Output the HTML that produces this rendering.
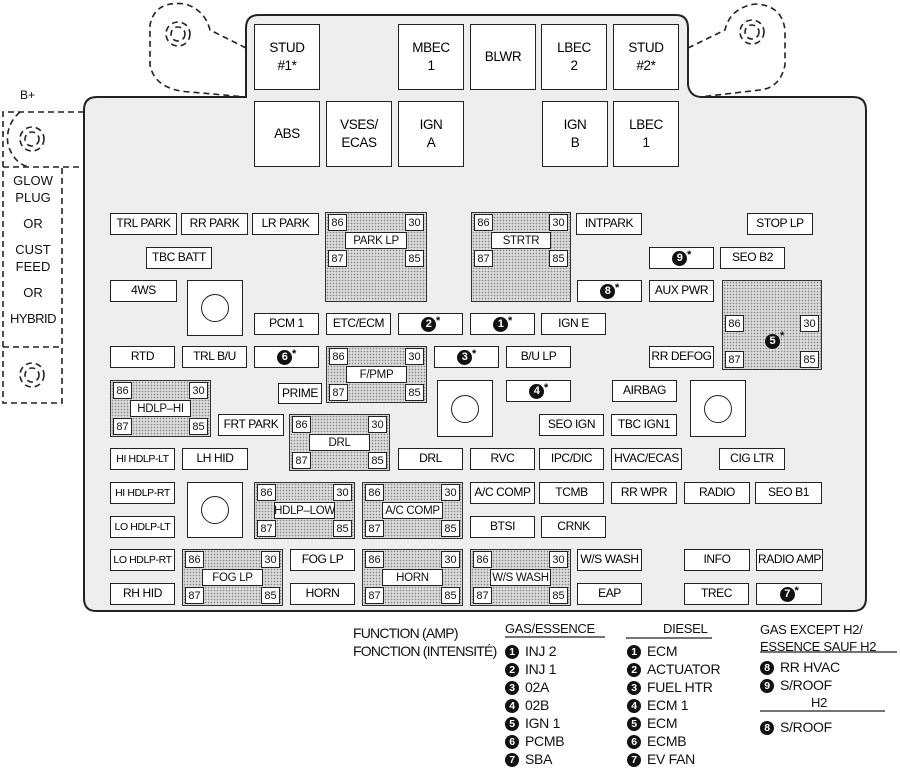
<!DOCTYPE html>
<html><head><meta charset="utf-8"><style>
body{margin:0;width:900px;height:773px;background:#fff;position:relative;overflow:hidden;font-family:"Liberation Sans",sans-serif;color:#111}
div{box-sizing:border-box}
.a{position:absolute}
.b{position:absolute;background:#fff;border:1.6px solid #222;display:flex;align-items:center;justify-content:center;font-size:12px;letter-spacing:-0.4px;white-space:nowrap;text-align:center;line-height:1.15;color:#000}
.big{font-size:13.5px;line-height:1.3}
.r{position:absolute;border:1.6px solid #333;background:#ddd radial-gradient(#888 0.7px,transparent 0.9px) 0 0/3px 3px}
.in{position:absolute;left:0;right:0;height:55px}
.p{position:absolute;width:19px;height:17px;background:#fff;border:1.4px solid #222;font-size:11px;display:flex;align-items:center;justify-content:center}
.tl{left:2px;top:1px}.tr{right:2px;top:1px}.bl{left:2px;bottom:1px}.br{right:2px;bottom:1px}
.lb{position:absolute;left:19px;right:19px;top:19px;height:17px;background:#fff;border:1.4px solid #222;font-size:11.5px;display:flex;align-items:center;justify-content:center;white-space:nowrap;letter-spacing:-0.3px}
.n{display:inline-block;width:15px;height:15px;border-radius:50%;background:#111;color:#fff;font-weight:bold;font-size:11px;line-height:15px;text-align:center;vertical-align:middle}
.s{font-size:11px;vertical-align:top;position:relative;top:-3px;font-weight:bold}
.c{position:absolute;background:#fff;border:1.6px solid #222}
.c::after{content:"";position:absolute;left:50%;top:50%;width:26px;height:26px;margin:-14px 0 0 -14px;border:1.5px solid #222;border-radius:50%}
.lg{position:absolute;font-size:14px;letter-spacing:-0.3px;white-space:nowrap}
.lg .n{width:14px;height:14px;line-height:14px;font-size:10.5px;margin-right:6px}
</style></head><body>
<svg class="a" style="left:0;top:0" width="900" height="773">
 <g fill="none" stroke="#222" stroke-width="1.6" stroke-dasharray="6,4">
  <path d="M246,48 L210,30 Q205,10 185,4 Q155,0 150,25 L150,65 Q155,90 190,92 L246,97"/>
  <path d="M688,48 L725,30 Q730,8 755,4 Q782,5 785,30 L785,65 Q780,88 760,90 L700,97"/>
  <circle cx="178" cy="34" r="12"/><circle cx="178" cy="34" r="7"/>
  <circle cx="752" cy="32" r="12"/><circle cx="752" cy="32" r="7"/>
  <path d="M84,112 L3,112 L3,403 L62,403 L62,167 M3,167 L84,167 M3,347 L62,347"/>
  <path d="M20,112 Q5,125 8,145 Q15,165 30,167"/>
  <circle cx="32" cy="139" r="12"/><circle cx="32" cy="139" r="7"/>
  <circle cx="32" cy="375" r="12"/><circle cx="32" cy="375" r="7"/>
 </g>
 <path d="M246,97 L246,28 Q246,15 259,15 L676,15 Q688,15 688,28 L688,85 Q690,97 702,97 L853,97 Q866,97 866,110 L866,598 Q866,611 853,611 L96,611 Q84,611 84,598 L84,110 Q84,97 97,97 Z" fill="#eeeeee" stroke="#222" stroke-width="2"/>
 <g stroke="#222" stroke-width="1.3">
  <line x1="505" y1="637" x2="605" y2="637"/>
  <line x1="626" y1="638" x2="712" y2="638"/>
  <line x1="760" y1="652" x2="897" y2="652"/>
  <line x1="760" y1="711" x2="885" y2="711"/>
 </g>
</svg>
<div class="a" style="left:20px;top:88px;font-size:12px">B+</div>
<div class="a" style="left:4px;top:172px;width:58px;text-align:center;font-size:13px;line-height:17px">GLOW<br>PLUG<br><div style="height:9px"></div>OR<br><div style="height:9px"></div>CUST<br>FEED<br><div style="height:9px"></div>OR<br><div style="height:9px"></div><span style="letter-spacing:-0.5px">HYBRID</span></div>

<div class="b big" style="left:254px;top:24px;width:66px;height:66px">STUD<br>#1*</div>
<div class="b big" style="left:398px;top:24px;width:66px;height:66px">MBEC<br>1</div>
<div class="b big" style="left:470px;top:24px;width:66px;height:66px">BLWR</div>
<div class="b big" style="left:541px;top:24px;width:66px;height:66px">LBEC<br>2</div>
<div class="b big" style="left:613px;top:24px;width:66px;height:66px">STUD<br>#2*</div>
<div class="b big" style="left:254px;top:101px;width:66px;height:66px">ABS</div>
<div class="b big" style="left:326px;top:101px;width:66px;height:66px">VSES/<br>ECAS</div>
<div class="b big" style="left:398px;top:101px;width:66px;height:66px">IGN<br>A</div>
<div class="b big" style="left:542px;top:101px;width:66px;height:66px">IGN<br>B</div>
<div class="b big" style="left:613px;top:101px;width:66px;height:66px">LBEC<br>1</div>

<div class="b" style="left:110px;top:213px;width:67px;height:22px">TRL PARK</div>
<div class="b" style="left:181px;top:213px;width:67px;height:22px">RR PARK</div>
<div class="b" style="left:252px;top:213px;width:67px;height:22px">LR PARK</div>
<div class="b" style="left:576px;top:213px;width:66px;height:22px">INTPARK</div>
<div class="b" style="left:747px;top:213px;width:66px;height:22px">STOP LP</div>
<div class="b" style="left:146px;top:247px;width:66px;height:22px">TBC BATT</div>
<div class="b" style="left:649px;top:247px;width:65px;height:22px"><span class="n">9</span><span class="s">*</span></div>
<div class="b" style="left:720px;top:247px;width:65px;height:22px">SEO B2</div>
<div class="b" style="left:110px;top:280px;width:67px;height:22px">4WS</div>
<div class="c" style="left:187px;top:280px;width:56px;height:56px"></div>
<div class="b" style="left:577px;top:280px;width:65px;height:22px"><span class="n">8</span><span class="s">*</span></div>
<div class="b" style="left:649px;top:280px;width:65px;height:22px">AUX PWR</div>
<div class="b" style="left:254px;top:313px;width:65px;height:22px">PCM 1</div>
<div class="b" style="left:326px;top:313px;width:65px;height:22px">ETC/ECM</div>
<div class="b" style="left:398px;top:313px;width:65px;height:22px"><span class="n">2</span><span class="s">*</span></div>
<div class="b" style="left:470px;top:313px;width:65px;height:22px"><span class="n">1</span><span class="s">*</span></div>
<div class="b" style="left:541px;top:313px;width:65px;height:22px">IGN E</div>
<div class="b" style="left:110px;top:346px;width:65px;height:22px">RTD</div>
<div class="b" style="left:182px;top:346px;width:65px;height:22px">TRL B/U</div>
<div class="b" style="left:254px;top:346px;width:65px;height:22px"><span class="n">6</span><span class="s">*</span></div>
<div class="b" style="left:434px;top:346px;width:65px;height:22px"><span class="n">3</span><span class="s">*</span></div>
<div class="b" style="left:506px;top:346px;width:65px;height:22px">B/U LP</div>
<div class="b" style="left:649px;top:346px;width:65px;height:22px">RR DEFOG</div>
<div class="b" style="left:278px;top:383px;width:44px;height:21px">PRIME</div>
<div class="c" style="left:437px;top:380px;width:56px;height:57px"></div>
<div class="b" style="left:506px;top:380px;width:65px;height:22px"><span class="n">4</span><span class="s">*</span></div>
<div class="b" style="left:612px;top:380px;width:65px;height:22px">AIRBAG</div>
<div class="c" style="left:690px;top:380px;width:56px;height:57px"></div>
<div class="b" style="left:218px;top:414px;width:66px;height:22px">FRT PARK</div>
<div class="b" style="left:539px;top:414px;width:65px;height:22px">SEO IGN</div>
<div class="b" style="left:611px;top:414px;width:66px;height:22px">TBC IGN1</div>
<div class="b" style="left:110px;top:448px;width:65px;height:22px;font-size:10.5px">HI HDLP-LT</div>
<div class="b" style="left:182px;top:448px;width:66px;height:22px">LH HID</div>
<div class="b" style="left:398px;top:448px;width:65px;height:22px">DRL</div>
<div class="b" style="left:470px;top:448px;width:65px;height:22px">RVC</div>
<div class="b" style="left:539px;top:448px;width:65px;height:22px">IPC/DIC</div>
<div class="b" style="left:611px;top:448px;width:71px;height:22px">HVAC/ECAS</div>
<div class="b" style="left:719px;top:448px;width:66px;height:22px">CIG LTR</div>
<div class="b" style="left:110px;top:482px;width:65px;height:22px;font-size:10.5px">HI HDLP-RT</div>
<div class="c" style="left:187px;top:482px;width:56px;height:56px"></div>
<div class="b" style="left:470px;top:482px;width:65px;height:22px">A/C COMP</div>
<div class="b" style="left:539px;top:482px;width:65px;height:22px">TCMB</div>
<div class="b" style="left:611px;top:482px;width:66px;height:22px">RR WPR</div>
<div class="b" style="left:684px;top:482px;width:66px;height:22px">RADIO</div>
<div class="b" style="left:755px;top:482px;width:67px;height:22px">SEO B1</div>
<div class="b" style="left:110px;top:516px;width:65px;height:22px;font-size:10.5px">LO HDLP-LT</div>
<div class="b" style="left:470px;top:516px;width:65px;height:22px">BTSI</div>
<div class="b" style="left:541px;top:516px;width:65px;height:22px">CRNK</div>
<div class="b" style="left:110px;top:549px;width:65px;height:22px;font-size:10.5px">LO HDLP-RT</div>
<div class="b" style="left:290px;top:549px;width:65px;height:22px">FOG LP</div>
<div class="b" style="left:577px;top:549px;width:65px;height:22px">W/S WASH</div>
<div class="b" style="left:684px;top:549px;width:66px;height:22px">INFO</div>
<div class="b" style="left:756px;top:549px;width:67px;height:22px">RADIO AMP</div>
<div class="b" style="left:110px;top:583px;width:65px;height:22px">RH HID</div>
<div class="b" style="left:290px;top:583px;width:65px;height:22px">HORN</div>
<div class="b" style="left:577px;top:583px;width:65px;height:22px">EAP</div>
<div class="b" style="left:684px;top:583px;width:65px;height:22px">TREC</div>
<div class="b" style="left:756px;top:583px;width:66px;height:22px"><span class="n">7</span><span class="s">*</span></div>

<div class="r" style="left:325px;top:212px;width:102px;height:90px"><div class="in" style="top:0"><div class="p tl">86</div><div class="p tr">30</div><div class="p bl">87</div><div class="p br">85</div><div class="lb">PARK LP</div></div></div>
<div class="r" style="left:471px;top:212px;width:100px;height:90px"><div class="in" style="top:0"><div class="p tl">86</div><div class="p tr">30</div><div class="p bl">87</div><div class="p br">85</div><div class="lb">STRTR</div></div></div>
<div class="r" style="left:722px;top:280px;width:100px;height:90px"><div class="in" style="top:33px"><div class="p tl">86</div><div class="p tr">30</div><div class="p bl">87</div><div class="p br">85</div><div style="position:absolute;left:42px;top:19px"><span class="n">5</span><span class="s">*</span></div></div></div>
<div class="r" style="left:326px;top:346px;width:101px;height:57px"><div class="in"><div class="p tl">86</div><div class="p tr">30</div><div class="p bl">87</div><div class="p br">85</div><div class="lb">F/PMP</div></div></div>
<div class="r" style="left:110px;top:380px;width:101px;height:57px"><div class="in"><div class="p tl">86</div><div class="p tr">30</div><div class="p bl">87</div><div class="p br">85</div><div class="lb">HDLP–HI</div></div></div>
<div class="r" style="left:289px;top:414px;width:101px;height:57px"><div class="in"><div class="p tl">86</div><div class="p tr">30</div><div class="p bl">87</div><div class="p br">85</div><div class="lb">DRL</div></div></div>
<div class="r" style="left:254px;top:482px;width:101px;height:57px"><div class="in"><div class="p tl">86</div><div class="p tr">30</div><div class="p bl">87</div><div class="p br">85</div><div class="lb">HDLP–LOW</div></div></div>
<div class="r" style="left:362px;top:482px;width:101px;height:57px"><div class="in"><div class="p tl">86</div><div class="p tr">30</div><div class="p bl">87</div><div class="p br">85</div><div class="lb">A/C COMP</div></div></div>
<div class="r" style="left:182px;top:549px;width:101px;height:57px"><div class="in"><div class="p tl">86</div><div class="p tr">30</div><div class="p bl">87</div><div class="p br">85</div><div class="lb">FOG LP</div></div></div>
<div class="r" style="left:362px;top:549px;width:101px;height:57px"><div class="in"><div class="p tl">86</div><div class="p tr">30</div><div class="p bl">87</div><div class="p br">85</div><div class="lb">HORN</div></div></div>
<div class="r" style="left:470px;top:549px;width:101px;height:57px"><div class="in"><div class="p tl">86</div><div class="p tr">30</div><div class="p bl">87</div><div class="p br">85</div><div class="lb">W/S WASH</div></div></div>

<div class="lg" style="left:353px;top:624px;line-height:18px;letter-spacing:-0.8px">FUNCTION (AMP)<br>FONCTION (INTENSITÉ)</div>
<div class="lg" style="left:505px;top:621px;font-size:13px">GAS/ESSENCE</div>
<div class="lg" style="left:505px;top:642px;line-height:18px"><span class="n">1</span>INJ 2<br><span class="n">2</span>INJ 1<br><span class="n">3</span>02A<br><span class="n">4</span>02B<br><span class="n">5</span>IGN 1<br><span class="n">6</span>PCMB<br><span class="n">7</span>SBA</div>
<div class="lg" style="left:663px;top:621px;font-size:13px">DIESEL</div>
<div class="lg" style="left:627px;top:642px;line-height:18px"><span class="n">1</span>ECM<br><span class="n">2</span>ACTUATOR<br><span class="n">3</span>FUEL HTR<br><span class="n">4</span>ECM 1<br><span class="n">5</span>ECM<br><span class="n">6</span>ECMB<br><span class="n">7</span>EV FAN</div>
<div class="lg" style="left:760px;top:621px;font-size:13px;line-height:17px">GAS EXCEPT H2/<br>ESSENCE SAUF H2</div>
<div class="lg" style="left:760px;top:658px;line-height:18px"><span class="n">8</span>RR HVAC<br><span class="n">9</span>S/ROOF</div>
<div class="lg" style="left:811px;top:695px;font-size:13px">H2</div>
<div class="lg" style="left:760px;top:719px"><span class="n">8</span>S/ROOF</div>
</body></html>
